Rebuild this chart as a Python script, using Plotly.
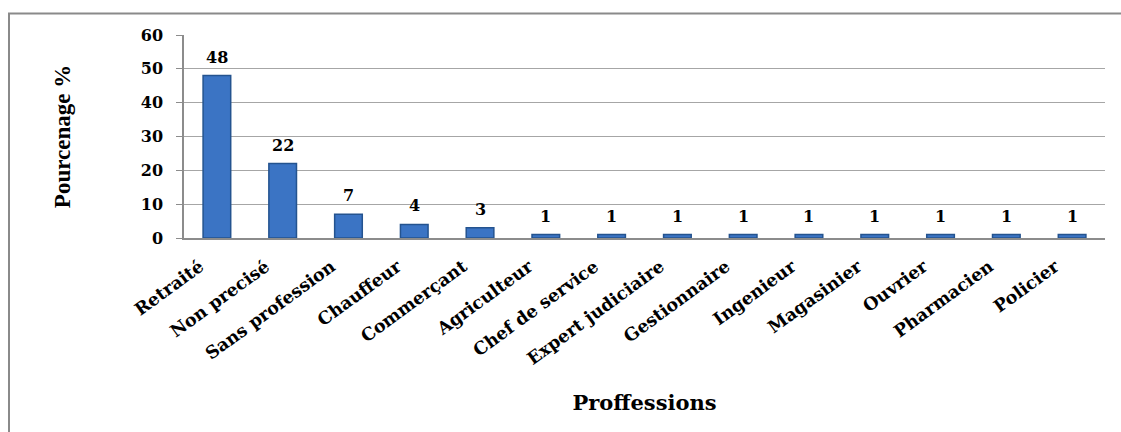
import plotly.graph_objects as go

# Répartition des professions (%)
professions = [
    "Retraité", "Non precisé", "Sans profession", "Chauffeur", "Commerçant",
    "Agriculteur", "Chef de service", "Expert judiciaire", "Gestionnaire",
    "Ingenieur", "Magasinier", "Ouvrier", "Pharmacien", "Policier",
]
pourcentages = [48, 22, 7, 4, 3, 1, 1, 1, 1, 1, 1, 1, 1, 1]
y_ticks = [0, 10, 20, 30, 40, 50, 60]

W, H = 1121, 432
ML, MR, MT, MB = 184, 16, 35, 194
plot_w = W - ML - MR
plot_h = H - MT - MB

serif = "DejaVu Serif"
times = "Liberation Serif"

fig = go.Figure()
fig.add_trace(go.Bar(
    x=professions,
    y=pourcentages,
    width=0.42,
    marker=dict(color="#3b74c4", line=dict(color="#24538f", width=1.5)),
    hoverinfo="x+y",
))

# Valeurs au-dessus des barres
for cat, val in zip(professions, pourcentages):
    fig.add_annotation(
        x=cat, y=val, text=f"<b>{val}</b>", showarrow=False,
        yanchor="bottom", yshift=7,
        font=dict(family=serif, size=16, color="#000000"),
    )

# Cadre du graphique (bords gauche et haut)
def px_x(px):
    return (px - ML) / plot_w

def px_y(py):
    return (H - MB - py) / plot_h

fig.add_shape(
    type="path", xref="paper", yref="paper",
    path=f"M {px_x(9)} {px_y(H + 5)} L {px_x(9)} {px_y(13.5)} L {px_x(W + 5)} {px_y(13.5)}",
    line=dict(color="#8a8a8a", width=2),
)

fig.update_layout(
    width=W, height=H,
    margin=dict(l=ML, r=MR, t=MT, b=MB),
    paper_bgcolor="white", plot_bgcolor="white",
    showlegend=False,
    bargap=0.58,
    xaxis=dict(
        tickangle=-36,
        tickvals=professions,
        ticktext=[f"<b>{p}</b>" for p in professions],
        tickfont=dict(family=serif, size=17.5, color="#000000"),
        ticklabelstandoff=10,
        ticklabelshift=-17,
        showline=True, linecolor="#8c8c8c", linewidth=1.5,
        showgrid=False, ticks="",
        title=dict(
            text="<b>Proffessions</b>",
            font=dict(family=serif, size=21, color="#000000"),
            standoff=28,
        ),
    ),
    yaxis=dict(
        range=[0, 60],
        tickvals=y_ticks,
        ticktext=[f"<b>{t}</b>" for t in y_ticks],
        tickfont=dict(family=serif, size=16, color="#000000"),
        showline=True, linecolor="#8c8c8c", linewidth=1.5,
        showgrid=True, gridcolor="#a6a6a6", gridwidth=1,
        ticks="outside", ticklen=6, tickcolor="#8c8c8c",
        ticklabelstandoff=10,
        zeroline=False,
        title=dict(
            text="<b>Pourcenage %</b>",
            font=dict(family=times, size=23, color="#000000"),
            standoff=64,
        ),
    ),
)

fig.write_html("out.html")
